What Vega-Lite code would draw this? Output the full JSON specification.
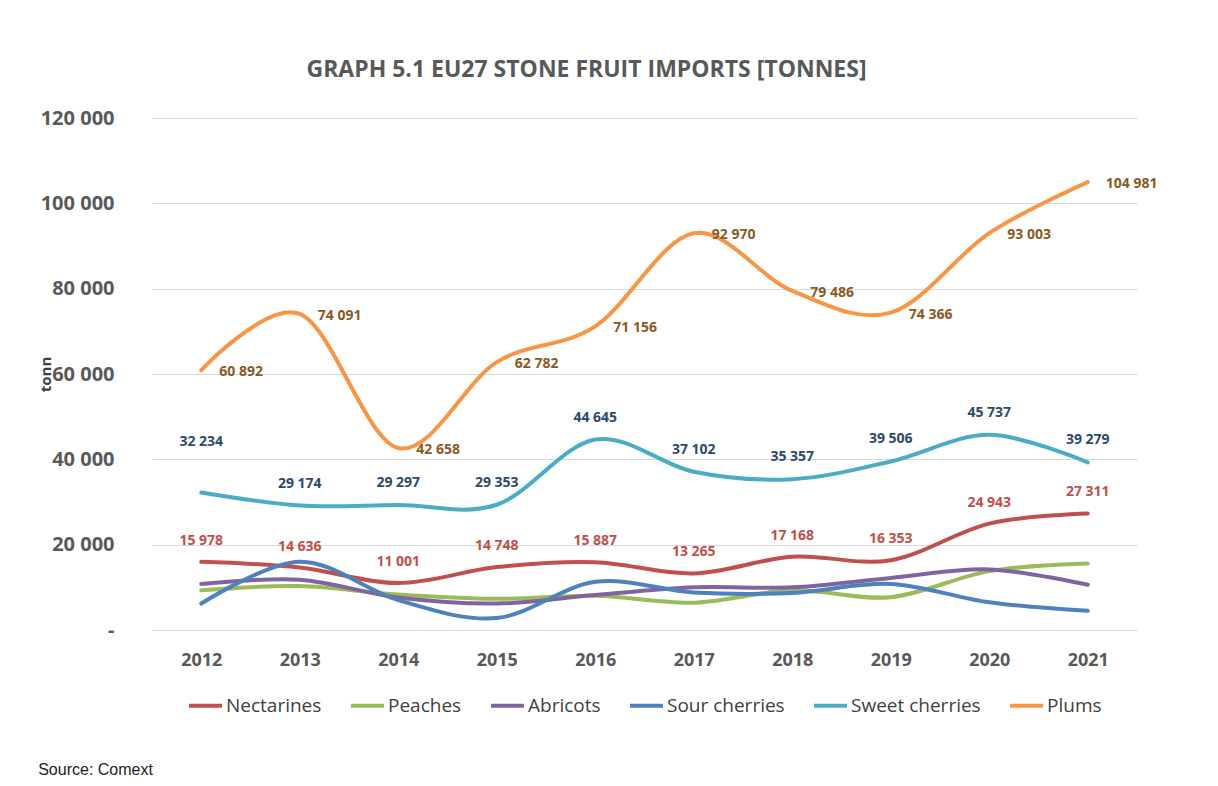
{
  "$schema": "https://vega.github.io/schema/vega-lite/v6.json",
  "background": "white",
  "padding": {"left": 38, "top": 59, "right": 40, "bottom": 6},
  "title": {"text": "Source:  Comext", "orient": "bottom", "anchor": "start", "font": "Liberation Sans", "fontSize": 16, "fontWeight": "normal", "color": "#222222", "offset": 46},
  "datasets": {
    "imports": [
      {"year": "2012", "fruit": "Nectarines", "tonnes": 15978},
      {"year": "2013", "fruit": "Nectarines", "tonnes": 14636},
      {"year": "2014", "fruit": "Nectarines", "tonnes": 11001},
      {"year": "2015", "fruit": "Nectarines", "tonnes": 14748},
      {"year": "2016", "fruit": "Nectarines", "tonnes": 15887},
      {"year": "2017", "fruit": "Nectarines", "tonnes": 13265},
      {"year": "2018", "fruit": "Nectarines", "tonnes": 17168},
      {"year": "2019", "fruit": "Nectarines", "tonnes": 16353},
      {"year": "2020", "fruit": "Nectarines", "tonnes": 24943},
      {"year": "2021", "fruit": "Nectarines", "tonnes": 27311},
      {"year": "2012", "fruit": "Peaches", "tonnes": 9300},
      {"year": "2013", "fruit": "Peaches", "tonnes": 10300},
      {"year": "2014", "fruit": "Peaches", "tonnes": 8300},
      {"year": "2015", "fruit": "Peaches", "tonnes": 7300},
      {"year": "2016", "fruit": "Peaches", "tonnes": 8000},
      {"year": "2017", "fruit": "Peaches", "tonnes": 6400},
      {"year": "2018", "fruit": "Peaches", "tonnes": 9300},
      {"year": "2019", "fruit": "Peaches", "tonnes": 7700},
      {"year": "2020", "fruit": "Peaches", "tonnes": 13800},
      {"year": "2021", "fruit": "Peaches", "tonnes": 15600},
      {"year": "2012", "fruit": "Abricots", "tonnes": 10800},
      {"year": "2013", "fruit": "Abricots", "tonnes": 11800},
      {"year": "2014", "fruit": "Abricots", "tonnes": 7600},
      {"year": "2015", "fruit": "Abricots", "tonnes": 6200},
      {"year": "2016", "fruit": "Abricots", "tonnes": 8200},
      {"year": "2017", "fruit": "Abricots", "tonnes": 10000},
      {"year": "2018", "fruit": "Abricots", "tonnes": 10000},
      {"year": "2019", "fruit": "Abricots", "tonnes": 12200},
      {"year": "2020", "fruit": "Abricots", "tonnes": 14200},
      {"year": "2021", "fruit": "Abricots", "tonnes": 10600},
      {"year": "2012", "fruit": "Sour cherries", "tonnes": 6200},
      {"year": "2013", "fruit": "Sour cherries", "tonnes": 16000},
      {"year": "2014", "fruit": "Sour cherries", "tonnes": 7000},
      {"year": "2015", "fruit": "Sour cherries", "tonnes": 2800},
      {"year": "2016", "fruit": "Sour cherries", "tonnes": 11300},
      {"year": "2017", "fruit": "Sour cherries", "tonnes": 8800},
      {"year": "2018", "fruit": "Sour cherries", "tonnes": 8700},
      {"year": "2019", "fruit": "Sour cherries", "tonnes": 10800},
      {"year": "2020", "fruit": "Sour cherries", "tonnes": 6500},
      {"year": "2021", "fruit": "Sour cherries", "tonnes": 4500},
      {"year": "2012", "fruit": "Sweet cherries", "tonnes": 32234},
      {"year": "2013", "fruit": "Sweet cherries", "tonnes": 29174},
      {"year": "2014", "fruit": "Sweet cherries", "tonnes": 29297},
      {"year": "2015", "fruit": "Sweet cherries", "tonnes": 29353},
      {"year": "2016", "fruit": "Sweet cherries", "tonnes": 44645},
      {"year": "2017", "fruit": "Sweet cherries", "tonnes": 37102},
      {"year": "2018", "fruit": "Sweet cherries", "tonnes": 35357},
      {"year": "2019", "fruit": "Sweet cherries", "tonnes": 39506},
      {"year": "2020", "fruit": "Sweet cherries", "tonnes": 45737},
      {"year": "2021", "fruit": "Sweet cherries", "tonnes": 39279},
      {"year": "2012", "fruit": "Plums", "tonnes": 60892},
      {"year": "2013", "fruit": "Plums", "tonnes": 74091},
      {"year": "2014", "fruit": "Plums", "tonnes": 42658},
      {"year": "2015", "fruit": "Plums", "tonnes": 62782},
      {"year": "2016", "fruit": "Plums", "tonnes": 71156},
      {"year": "2017", "fruit": "Plums", "tonnes": 92970},
      {"year": "2018", "fruit": "Plums", "tonnes": 79486},
      {"year": "2019", "fruit": "Plums", "tonnes": 74366},
      {"year": "2020", "fruit": "Plums", "tonnes": 93003},
      {"year": "2021", "fruit": "Plums", "tonnes": 104981}
    ]
  },
  "vconcat": [
    {
      "title": {"text": "GRAPH 5.1 EU27 STONE FRUIT IMPORTS [TONNES]", "anchor": "middle", "dx": -58, "font": "Open Sans", "fontSize": 23, "fontWeight": "bold", "color": "#595959", "offset": 26},
      "width": 985,
      "height": 512,
      "data": {"name": "imports"},
      "encoding": {
        "x": {"field": "year", "type": "ordinal", "scale": {"type": "point", "padding": 0.5},
              "axis": {"title": null, "labelAngle": 0, "domain": false, "ticks": false, "grid": false, "labelPadding": 21, "labelFont": "Open Sans", "labelFontSize": 18, "labelFontWeight": "bold", "labelColor": "#595959"}},
        "y": {"field": "tonnes", "type": "quantitative", "scale": {"domain": [0, 120000]},
              "axis": {"title": "tonn", "values": [0, 20000, 40000, 60000, 80000, 100000, 120000], "format": ",d", "labelExpr": "datum.value == 0 ? '-' : datum.label", "domain": false, "ticks": false, "grid": true, "gridColor": "#D9D9D9", "gridWidth": 1.2, "labelPadding": 38, "labelFont": "Open Sans", "labelFontSize": 20, "labelFontWeight": "bold", "labelColor": "#595959", "titleFont": "Open Sans", "titleFontSize": 15, "titleFontWeight": "bold", "titleColor": "#404040", "titlePadding": -13}}
      },
      "layer": [
        {
          "mark": {"type": "line", "interpolate": "cardinal", "strokeWidth": 4, "strokeCap": "round"},
          "encoding": {
            "color": {"field": "fruit", "type": "nominal",
                      "scale": {"domain": ["Nectarines", "Peaches", "Abricots", "Sour cherries", "Sweet cherries", "Plums"], "range": ["#C0504D", "#9BBB59", "#8064A2", "#4F81BD", "#4BACC6", "#F79646"]},
                      "legend": {"title": null, "orient": "bottom", "direction": "horizontal", "offset": 18, "symbolType": "stroke", "symbolSize": 1089, "symbolStrokeWidth": 4, "labelFont": "Open Sans", "labelFontSize": 19, "labelColor": "#404040", "columnPadding": 21, "labelOffset": 2}}
          }
        },
        {
          "transform": [{"filter": "datum.fruit == 'Nectarines'"}],
          "mark": {"type": "text", "dy": -21, "font": "Open Sans", "fontSize": 14, "fontWeight": "bold", "color": "#C0504D"},
          "encoding": {"text": {"field": "tonnes", "type": "quantitative", "format": ",d"}}
        },
        {
          "transform": [{"filter": "datum.fruit == 'Sweet cherries' && datum.year != '2012'"}],
          "mark": {"type": "text", "dy": -22, "font": "Open Sans", "fontSize": 14, "fontWeight": "bold", "color": "#2E4A6B"},
          "encoding": {"text": {"field": "tonnes", "type": "quantitative", "format": ",d"}}
        },
        {
          "transform": [{"filter": "datum.fruit == 'Sweet cherries' && datum.year == '2012'"}],
          "mark": {"type": "text", "dy": -50, "font": "Open Sans", "fontSize": 14, "fontWeight": "bold", "color": "#2E4A6B"},
          "encoding": {"text": {"field": "tonnes", "type": "quantitative", "format": ",d"}}
        },
        {
          "transform": [{"filter": "datum.fruit == 'Plums'"}],
          "mark": {"type": "text", "align": "left", "dx": 18, "dy": 2, "font": "Open Sans", "fontSize": 14, "fontWeight": "bold", "color": "#8A5A24"},
          "encoding": {"text": {"field": "tonnes", "type": "quantitative", "format": ",d"}}
        }
      ]
    }
  ],
  "config": {
    "locale": {"number": {"decimal": ".", "thousands": " ", "grouping": [3], "currency": ["", ""]}},
    "view": {"stroke": null},
    "legend": {"layout": {"anchor": "middle"}}
  }
}
